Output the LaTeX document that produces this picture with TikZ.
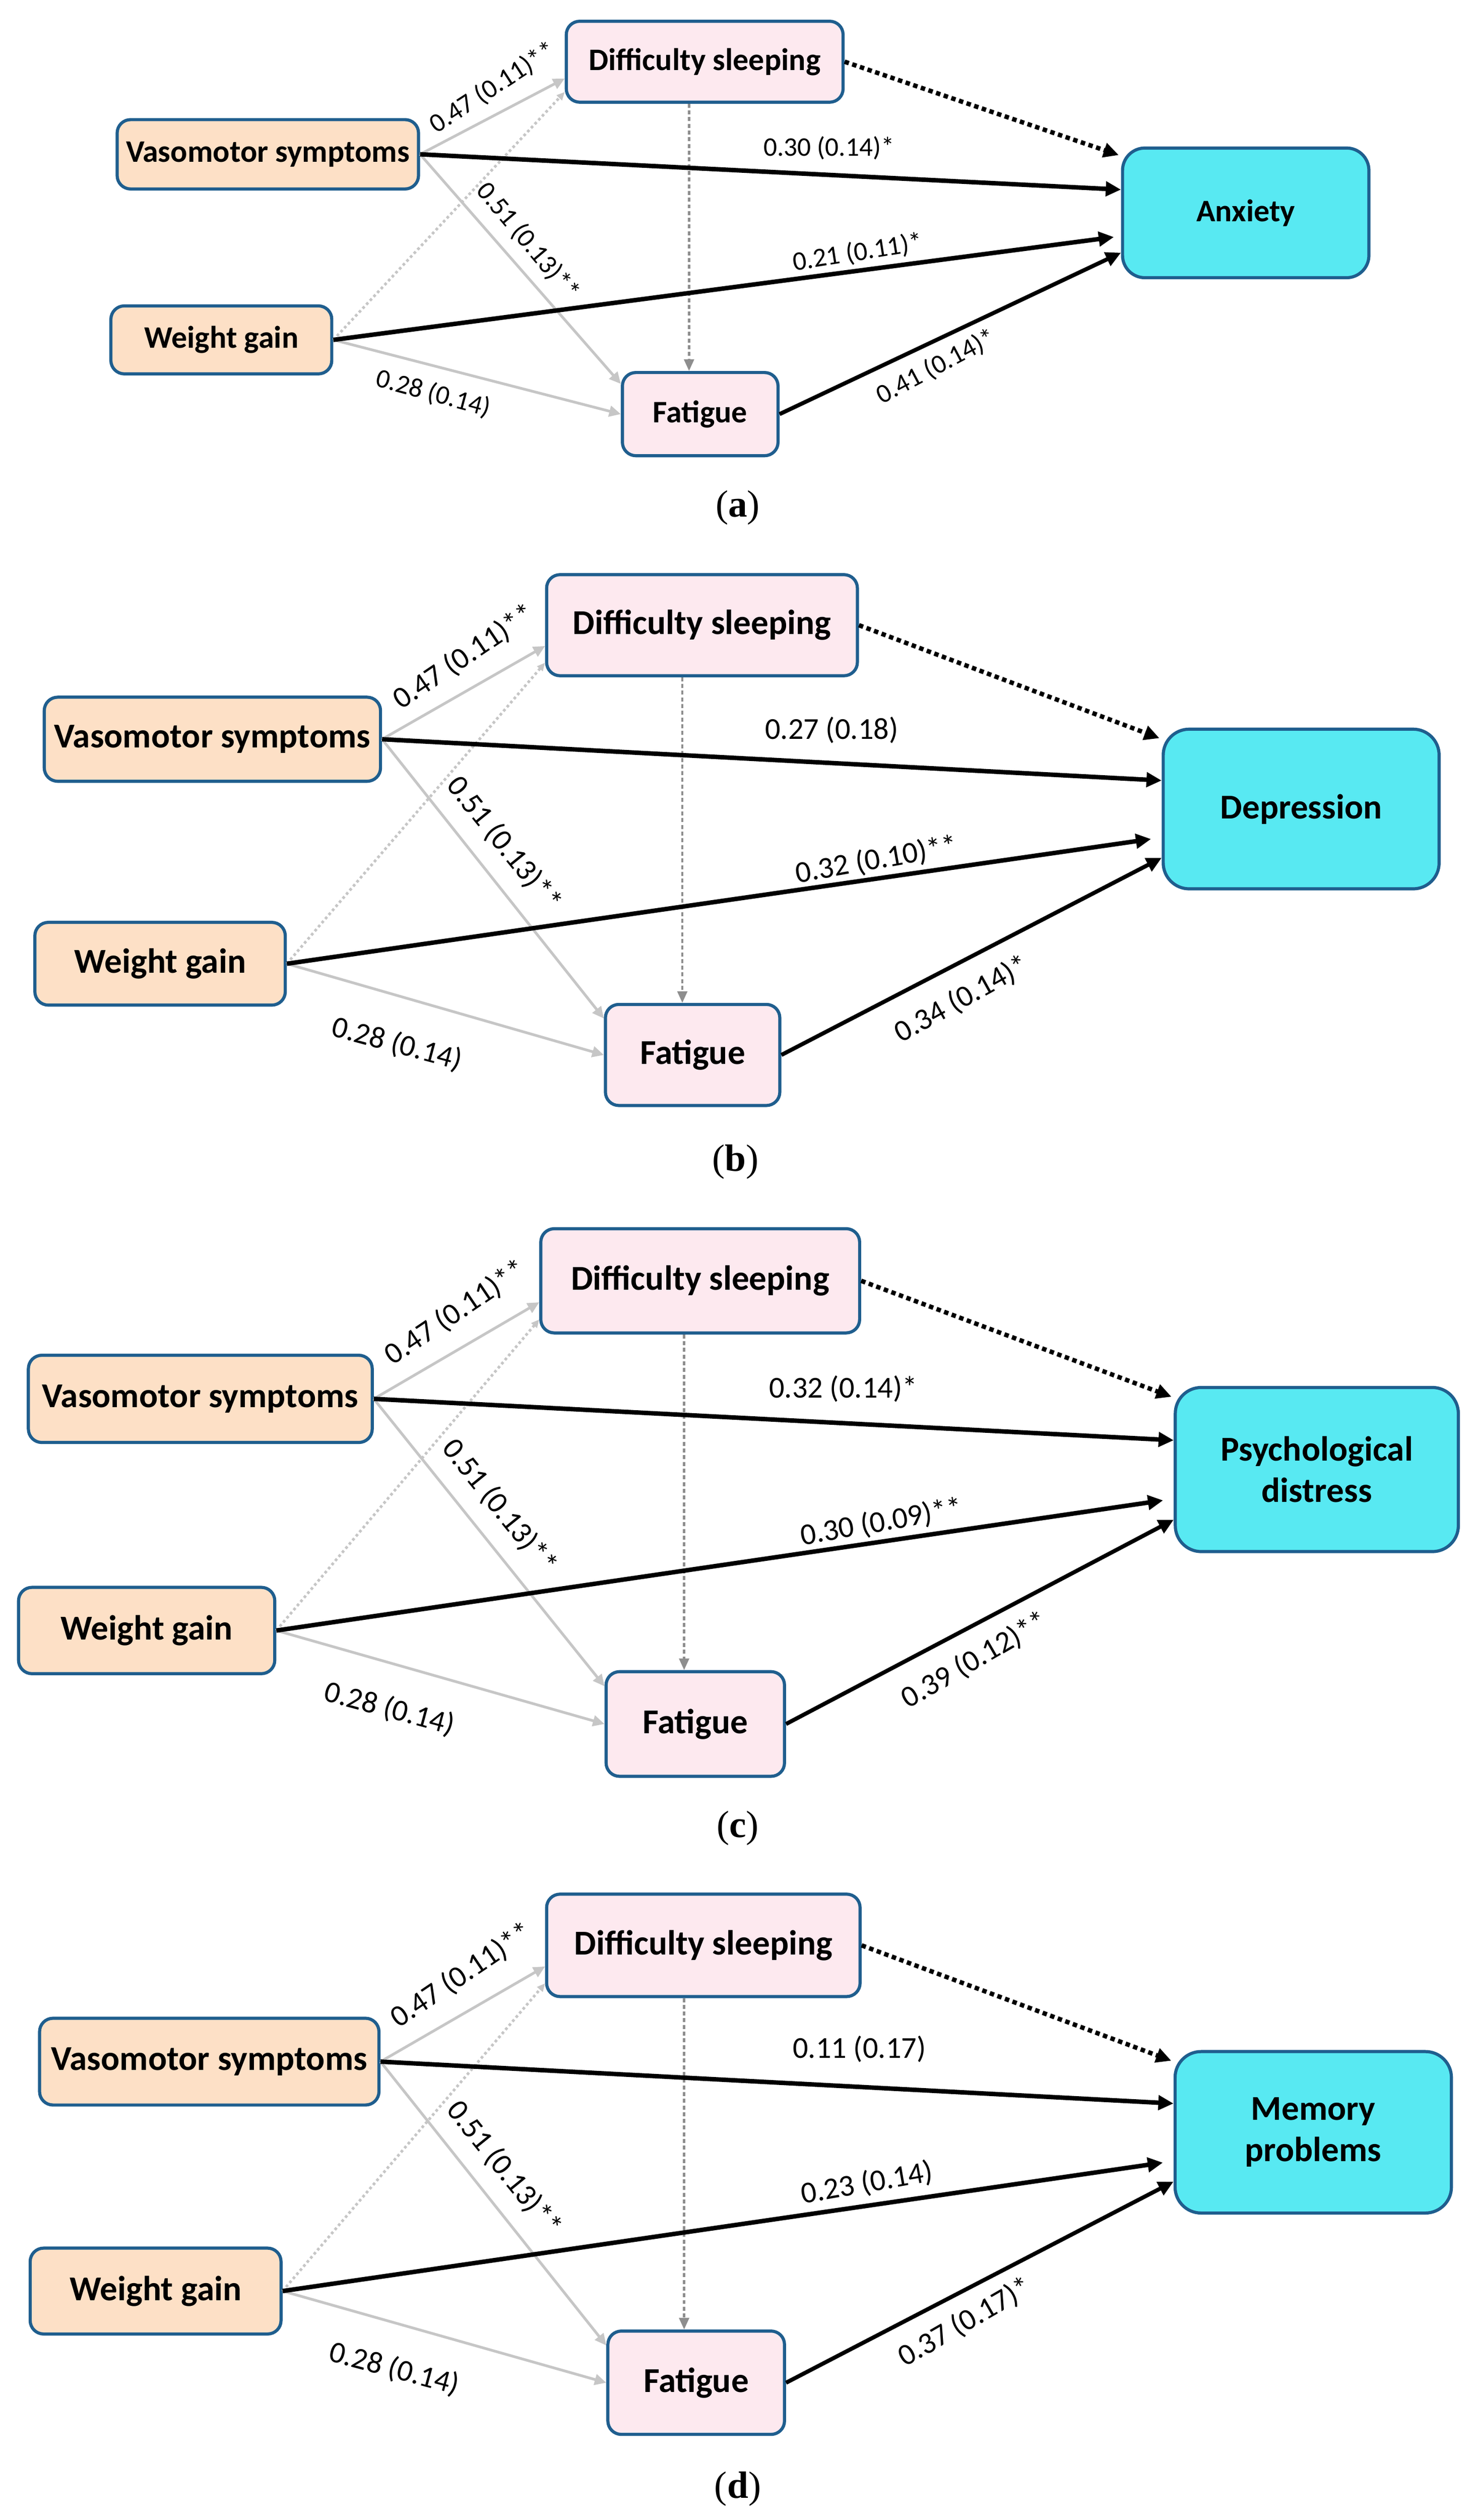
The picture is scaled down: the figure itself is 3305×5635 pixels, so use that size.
\documentclass[tikz,border=0pt]{standalone}
\usepackage{fontspec}
\setmainfont{Carlito}
\newfontfamily\capfont{Liberation Serif}
\usetikzlibrary{arrows.meta,calc}
\definecolor{srcfill}{HTML}{FDE0C6}
\definecolor{medfill}{HTML}{FDE9EF}
\definecolor{outfill}{HTML}{58E9F2}
\definecolor{bordc}{HTML}{1F5E8E}
\definecolor{lgray}{HTML}{C6C6C6}
\definecolor{dgray}{HTML}{8E8E8E}
\newcommand\nsz{78}
\newcommand\lsz{68}
\tikzset{
  box/.style={draw=bordc, line width=7pt, rounded corners=30pt, inner sep=0pt, align=center,
     font=\fontsize{\nsz}{92}\selectfont\bfseries},
  srcbox/.style={box, fill=srcfill},
  medbox/.style={box, fill=medfill},
  outbox/.style={box, fill=outfill, rounded corners=58pt},
  lab/.style={font=\fontsize{\lsz}{\lsz}\selectfont, inner sep=0pt},
  captext/.style={font=\capfont\fontsize{85}{85}\selectfont, inner sep=0pt},
  garrow/.style={draw=lgray, line width=6pt, -{Triangle[length=26pt,width=24pt]}},
  gdots/.style={draw=lgray, line width=6pt, dash pattern=on 6pt off 6pt, -{Triangle[length=18pt,width=16pt]}},
  ddash/.style={draw=dgray, line width=5pt, dash pattern=on 9pt off 6pt, -{Triangle[length=26pt,width=22pt]}},
  barrow/.style={draw=black, line width=10pt, -{Triangle[length=34pt,width=32pt]}},
  bdots/.style={draw=black, line width=10pt, dash pattern=on 10pt off 8pt, -{Triangle[length=34pt,width=32pt]}},
}
\begin{document}
\begin{tikzpicture}[x=1pt,y=-1pt]
\fill[white] (0,0) rectangle (3305,5635);
\useasboundingbox (0,0) rectangle (3305,5635);

% ---------------- panel (a)
\begin{scope}
\renewcommand\nsz{70}\renewcommand\lsz{60}
\node[medbox, minimum width=619pt, minimum height=181pt] (DSa) at (1576,138) {Difficulty sleeping};
\node[srcbox, minimum width=674pt, minimum height=155pt] (VSa) at (599,345) {Vasomotor symptoms};
\node[srcbox, minimum width=494pt, minimum height=152pt] (WGa) at (495,760) {Weight gain};
\node[medbox, minimum width=348pt, minimum height=186pt] (Fa) at (1566,926) {Fatigue};
\node[outbox, rounded corners=50pt, minimum width=551pt, minimum height=290pt] (Oa) at (2786,476) {Anxiety};
\coordinate (va) at (1541,0);
\draw[garrow] (VSa.east) -- ($(DSa.south west)!0.3!(DSa.north west)$);
\draw[gdots] (WGa.east) -- ($(DSa.south west)!0.14!(DSa.north west)$);
\draw[garrow] (VSa.east) -- ($(Fa.north west)!0.15!(Fa.south west)$);
\draw[garrow] (WGa.east) -- (Fa.west);
\draw[ddash] (DSa.south -| va) -- (Fa.north -| va);
\draw[bdots] (DSa.east) -- ($(Oa.north west)!0.065!(Oa.south west)+(-5,0)$);
\draw[barrow] (VSa.east) -- ($(Oa.north west)!0.325!(Oa.south west)$);
\draw[barrow, shorten >=16pt] (WGa.east) -- ($(Oa.north west)!0.675!(Oa.south west)$);
\draw[barrow, line width=9pt] (Fa.east) -- ($(Oa.north west)!0.8!(Oa.south west)$);
\node[rotate=33, lab] (a1) at (1102,196) {0.47 (0.11)**};
\node[lab] (a2) at (1854,331) {0.30 (0.14)*};
\node[rotate=-50, lab] (a3) at (1181,540) {0.51 (0.13)**};
\node[rotate=9, lab] (a4) at (1918,565) {0.21 (0.11)*};
\node[rotate=-15, lab] (a5) at (969,880) {0.28 (0.14)};
\node[rotate=28, lab] (a6) at (2094,820) {0.41 (0.14)*};
\node[captext] (capa) at (1650,1135) {(\textbf{a})};
\end{scope}

% ---------------- panel (b)
\node[medbox, minimum width=695pt, minimum height=226pt] (DSb) at (1570,1398) {Difficulty sleeping};
\node[srcbox, minimum width=752pt, minimum height=188pt] (VSb) at (475,1653) {Vasomotor symptoms};
\node[srcbox, minimum width=560pt, minimum height=185pt] (WGb) at (358,2155) {Weight gain};
\node[medbox, minimum width=390pt, minimum height=226pt] (Fb) at (1549,2359) {Fatigue};
\node[outbox, minimum width=617pt, minimum height=357pt] (Ob) at (2910,1809) {Depression};
\coordinate (vb) at (1526,0);
\draw[garrow] (VSb.east) -- ($(DSb.south west)!0.3!(DSb.north west)$);
\draw[gdots] (WGb.east) -- ($(DSb.south west)!0.14!(DSb.north west)$);
\draw[garrow] (VSb.east) -- ($(Fb.north west)!0.15!(Fb.south west)$);
\draw[garrow] (WGb.east) -- (Fb.west);
\draw[ddash] (DSb.south -| vb) -- (Fb.north -| vb);
\draw[bdots] (DSb.east) -- ($(Ob.north west)!0.065!(Ob.south west)+(-5,0)$);
\draw[barrow] (VSb.east) -- ($(Ob.north west)!0.325!(Ob.south west)$);
\draw[barrow, shorten >=24pt] (WGb.east) -- ($(Ob.north west)!0.675!(Ob.south west)$);
\draw[barrow, line width=9pt] (Fb.east) -- ($(Ob.north west)!0.8!(Ob.south west)$);
\node[rotate=34, lab] (b1) at (1038,1469) {0.47 (0.11)**};
\node[lab] (b2) at (1860,1633) {0.27 (0.18)};
\node[rotate=-51, lab] (b3) at (1127,1887) {0.51 (0.13)**};
\node[rotate=10, lab] (b4) at (1960,1923) {0.32 (0.10)**};
\node[rotate=-15, lab] (b5) at (888,2335) {0.28 (0.14)};
\node[rotate=29, lab] (b6) at (2151,2234) {0.34 (0.14)*};
\node[captext] (capb) at (1645,2598) {(\textbf{b})};

% ---------------- panel (c)
\node[medbox, minimum width=713pt, minimum height=233pt] (DSc) at (1566,2864) {Difficulty sleeping};
\node[srcbox, minimum width=769pt, minimum height=195pt] (VSc) at (448,3128) {Vasomotor symptoms};
\node[srcbox, minimum width=573pt, minimum height=193pt] (WGc) at (328,3646) {Weight gain};
\node[medbox, minimum width=399pt, minimum height=234pt] (Fc) at (1555,3855) {Fatigue};
\node[outbox, minimum width=633pt, minimum height=367pt] (Oc) at (2945,3286) {Psychological\\distress};
\coordinate (vc) at (1530,0);
\draw[garrow] (VSc.east) -- ($(DSc.south west)!0.3!(DSc.north west)$);
\draw[gdots] (WGc.east) -- ($(DSc.south west)!0.14!(DSc.north west)$);
\draw[garrow] (VSc.east) -- ($(Fc.north west)!0.15!(Fc.south west)$);
\draw[garrow] (WGc.east) -- (Fc.west);
\draw[ddash] (DSc.south -| vc) -- (Fc.north -| vc);
\draw[bdots] (DSc.east) -- ($(Oc.north west)!0.065!(Oc.south west)+(-5,0)$);
\draw[barrow] (VSc.east) -- ($(Oc.north west)!0.325!(Oc.south west)$);
\draw[barrow, shorten >=24pt] (WGc.east) -- ($(Oc.north west)!0.675!(Oc.south west)$);
\draw[barrow, line width=9pt] (Fc.east) -- ($(Oc.north west)!0.8!(Oc.south west)$);
\node[rotate=34, lab] (c1) at (1019,2935) {0.47 (0.11)**};
\node[lab] (c2) at (1886,3105) {0.32 (0.14)*};
\node[rotate=-51, lab] (c3) at (1117,3369) {0.51 (0.13)**};
\node[rotate=10, lab] (c4) at (1971,3404) {0.30 (0.09)**};
\node[rotate=-15, lab] (c5) at (871,3821) {0.28 (0.14)};
\node[rotate=30, lab] (c6) at (2180,3712) {0.39 (0.12)**};
\node[captext] (capc) at (1650,4088) {(\textbf{c})};

% ---------------- panel (d)
\node[medbox, minimum width=701pt, minimum height=229pt] (DSd) at (1573,4350) {Difficulty sleeping};
\node[srcbox, minimum width=759pt, minimum height=194pt] (VSd) at (468,4610) {Vasomotor symptoms};
\node[srcbox, minimum width=561pt, minimum height=192pt] (WGd) at (348,5123) {Weight gain};
\node[medbox, minimum width=395pt, minimum height=231pt] (Fd) at (1557,5328) {Fatigue};
\node[outbox, minimum width=618pt, minimum height=361pt] (Od) at (2937,4768) {Memory\\problems};
\coordinate (vd) at (1530,0);
\draw[garrow] (VSd.east) -- ($(DSd.south west)!0.3!(DSd.north west)$);
\draw[gdots] (WGd.east) -- ($(DSd.south west)!0.14!(DSd.north west)$);
\draw[garrow] (VSd.east) -- ($(Fd.north west)!0.15!(Fd.south west)$);
\draw[garrow] (WGd.east) -- (Fd.west);
\draw[ddash] (DSd.south -| vd) -- (Fd.north -| vd);
\draw[bdots] (DSd.east) -- ($(Od.north west)!0.065!(Od.south west)+(-5,0)$);
\draw[barrow] (VSd.east) -- ($(Od.north west)!0.325!(Od.south west)$);
\draw[barrow, shorten >=24pt] (WGd.east) -- ($(Od.north west)!0.675!(Od.south west)$);
\draw[barrow, line width=9pt] (Fd.east) -- ($(Od.north west)!0.8!(Od.south west)$);
\node[rotate=34, lab] (d1) at (1032,4417) {0.47 (0.11)**};
\node[lab] (d2) at (1922,4582) {0.11 (0.17)};
\node[rotate=-51, lab] (d3) at (1127,4849) {0.51 (0.13)**};
\node[rotate=10, lab] (d4) at (1939,4882) {0.23 (0.14)};
\node[rotate=-15, lab] (d5) at (882,5297) {0.28 (0.14)};
\node[rotate=30, lab] (d6) at (2158,5193) {0.37 (0.17)*};
\node[captext] (capd) at (1650,5566) {(\textbf{d})};
\end{tikzpicture}
\end{document}
